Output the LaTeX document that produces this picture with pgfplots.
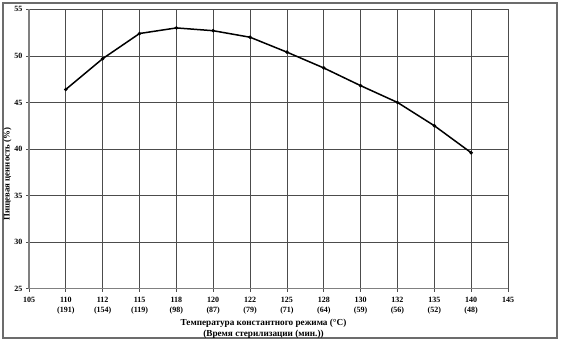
\documentclass[border=0pt]{standalone}
\usepackage{fontspec}
\setmainfont{Liberation Serif}
\usepackage{pgfplots}
\pgfplotsset{compat=1.18}
\begin{document}
\begin{tikzpicture}[x=1pt,y=1pt]
\path[use as bounding box] (-29,-55.3) rectangle (532,288.7);
\draw[gray!85!black, line width=1.2pt] (-26,-49.3) rectangle (528,285.7);
\begin{axis}[
  at={(0,0)}, anchor=south west,
  scale only axis,
  width=479pt, height=279.4pt,
  xmin=0, xmax=13, ymin=25, ymax=55,
  xtick={0,...,13},
  xticklabels={105,{110\\(191)},{112\\(154)},{115\\(119)},{118\\(98)},{120\\(87)},{122\\(79)},{125\\(71)},{128\\(64)},{130\\(59)},{132\\(56)},{135\\(52)},{140\\(48)},145},
  xticklabel style={align=center, font=\fontsize{8}{9.5}\selectfont\bfseries, yshift=-2pt},
  ytick={25,30,...,55},
  yticklabel style={font=\fontsize{8}{9}\selectfont\bfseries},
  /pgf/number format/assume math mode=true,
  grid=major,
  major grid style={gray!60!black, line width=0.7pt},
  axis x line*=bottom, axis y line*=left,
  axis line style={gray, line width=1.6pt, -},
  tick style={gray!60!black, line width=0.7pt},
  tick align=outside, major tick length=3pt,
  xlabel={Температура константного режима (°C)\\(Время стерилизации (мин.))},
  xlabel style={align=center, font=\fontsize{9.2}{11}\selectfont\bfseries, yshift=2pt, xshift=-5pt},
  ylabel={Пищевая ценность (\%)},
  ylabel style={at={(ticklabel cs:0.41)}, font=\fontsize{8.8}{9}\selectfont\bfseries, yshift=-4pt},
  clip=false,
]
\addplot[black, line width=1.5pt, mark=*, mark size=0.9pt] coordinates {
(1,46.4) (2,49.7) (3,52.4) (4,53.0) (5,52.7) (6,52.0) (7,50.4) (8,48.7) (9,46.8) (10,45.0) (11,42.5) (12,39.6)
};
\end{axis}
\end{tikzpicture}
\end{document}
